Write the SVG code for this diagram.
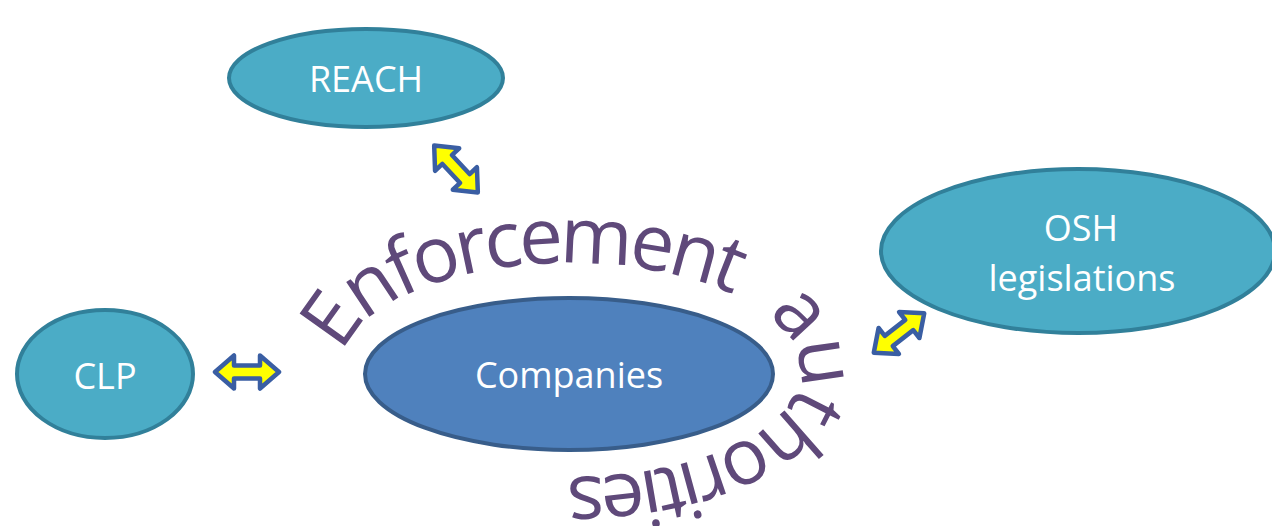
<svg xmlns="http://www.w3.org/2000/svg" xmlns:xlink="http://www.w3.org/1999/xlink" width="1272" height="526" viewBox="0 0 1272 526">
  <style>
    .reg { fill: #4bacc6; stroke: #31809a; stroke-width: 4; }
    .core { fill: #4f81bd; stroke: #385d8a; stroke-width: 4; }
    .label { font-family: "Open Sans", "Liberation Sans", sans-serif; font-size: 36px; fill: #ffffff; text-anchor: middle; }
    .arc { font-family: "Open Sans", "Liberation Sans", sans-serif; font-size: 78px; fill: #5f497a; }
    .dbl { fill: #ffff00; stroke: #3a5ea3; stroke-width: 4.5; stroke-linejoin: round; }
  </style>
  <defs>
    <!-- double-headed block arrow, centred on the origin, pointing along x -->
    <path id="dblArrow" d="M-32,0 L-13,-16.5 L-13,-6.5 L13,-6.5 L13,-16.5 L32,0 L13,16.5 L13,6.5 L-13,6.5 L-13,16.5 Z"/>
    <!-- baseline ellipse for the arched caption round the centre node -->
    <path id="arcPath" d="M340,370 A230,107 0 1 1 800,370 A230,107 0 1 1 340,370"/>
  </defs>

  <g id="reach">
    <ellipse class="reg" cx="366" cy="78" rx="137" ry="49"/>
    <text class="label" x="366" y="92">REACH</text>
  </g>

  <g id="osh">
    <ellipse class="reg" cx="1078" cy="251" rx="197" ry="82"/>
    <text class="label" x="1081" y="241">OSH</text>
    <text class="label" x="1082" y="291">legislations</text>
  </g>

  <g id="clp">
    <ellipse class="reg" cx="105" cy="374" rx="88" ry="64"/>
    <text class="label" x="105" y="389">CLP</text>
  </g>

  <g id="companies">
    <ellipse class="core" cx="569" cy="374" rx="204" ry="76"/>
    <text class="label" x="569" y="388">Companies</text>
  </g>

  <g id="enforcement-authorities">
    <text class="arc"><textPath xlink:href="#arcPath" startOffset="17" letter-spacing="-4.5">Enforcement</textPath><textPath xlink:href="#arcPath" startOffset="480" letter-spacing="-5">authorities</textPath></text>
  </g>

  <g id="connectors">
    <use class="dbl" xlink:href="#dblArrow" transform="translate(456,169) rotate(47)"/>
    <use class="dbl" xlink:href="#dblArrow" transform="translate(247,372)"/>
    <use class="dbl" xlink:href="#dblArrow" transform="translate(899,333) rotate(-38)"/>
  </g>
</svg>
